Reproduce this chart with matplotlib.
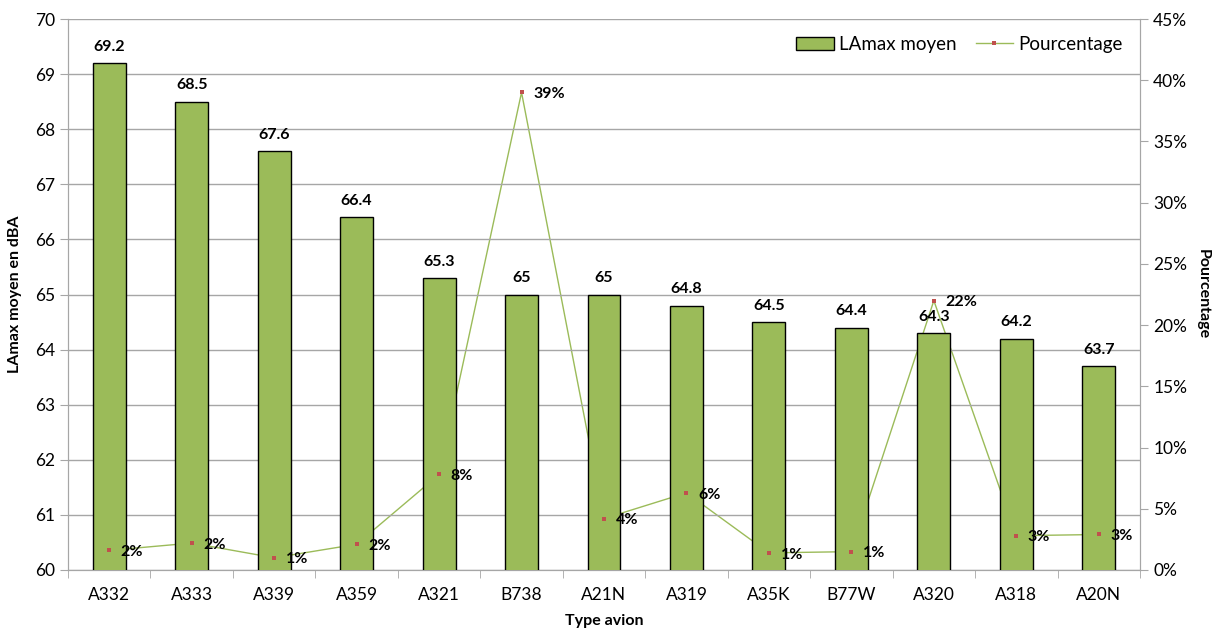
import matplotlib
matplotlib.use("Agg")
import matplotlib.pyplot as plt
from matplotlib.ticker import FuncFormatter, MultipleLocator
from matplotlib.lines import Line2D
from matplotlib.patches import Patch

plt.rcParams['font.family'] = ['Lato', 'DejaVu Sans']

categories = ["A332", "A333", "A339", "A359", "A321", "B738", "A21N", "A319",
              "A35K", "B77W", "A320", "A318", "A20N"]
lamax = [69.2, 68.5, 67.6, 66.4, 65.3, 65, 65, 64.8, 64.5, 64.4, 64.3, 64.2, 63.7]
lamax_labels = ["69.2", "68.5", "67.6", "66.4", "65.3", "65", "65", "64.8",
                "64.5", "64.4", "64.3", "64.2", "63.7"]
pct = [1.6, 2.2, 1.0, 2.1, 7.8, 39.0, 4.2, 6.3, 1.4, 1.5, 22.0, 2.8, 2.9]
pct_labels = ["2%", "2%", "1%", "2%", "8%", "39%", "4%", "6%", "1%", "1%", "22%", "3%", "3%"]

fig = plt.figure(figsize=(12.19, 6.30), dpi=100)
ax = fig.add_axes([68/1219, 60/630, 1072/1219, 551/630])
ax2 = ax.twinx()

x = list(range(len(categories)))
bar_color = "#9BBB59"
grid_color = "#A6A6A6"

ax.set_ylim(60, 70)
ax.set_xlim(-0.5, len(categories) - 0.5)
ax.yaxis.set_major_locator(MultipleLocator(1))
ax.grid(axis='y', color=grid_color, linewidth=1)
ax.set_axisbelow(True)

# line behind bars
ax.set_zorder(2)
ax.patch.set_visible(False)
ax2.set_zorder(1)

bars = ax.bar(x, lamax, width=0.40, color=bar_color, edgecolor="black",
              linewidth=1, zorder=3)
for xi, v, lab in zip(x, lamax, lamax_labels):
    ax.text(xi, v + 0.17, lab, ha='center', va='bottom', fontsize=11.5,
            fontweight='bold', zorder=6)

ax2.set_ylim(0, 45)
ax2.yaxis.set_major_locator(MultipleLocator(5))
ax2.yaxis.set_major_formatter(FuncFormatter(lambda v, p: f"{int(round(v))}%"))
ax2.plot(x, pct, color="#9BBB59", linewidth=1, zorder=1)

def to_ax(v):
    return 60 + v / 45 * 10
ax.plot(x, [to_ax(v) for v in pct], linestyle='none', marker='s', markersize=2.2,
        color="#C0504D", markeredgewidth=0, zorder=5)
for xi, v, lab in zip(x, pct, pct_labels):
    ax.text(xi + 0.14, to_ax(v) - 0.03, lab, ha='left', va='center', fontsize=11.5,
            fontweight='bold', zorder=6)

ax.set_xticks(x)
ax.set_xticklabels(categories, fontsize=12.5)
ax.tick_params(axis='x', length=0, pad=12)
ax.set_xticks([i + 0.5 for i in range(-1, len(categories))], minor=True)
ax.tick_params(axis='x', which='minor', length=6, color=grid_color, direction='out')
ax.tick_params(axis='y', labelsize=12.5, length=6, color=grid_color, direction='out')
ax2.tick_params(axis='y', labelsize=12.5, length=6, color=grid_color, direction='out')

for a in (ax, ax2):
    for s in a.spines.values():
        s.set_color(grid_color)
ax.spines['top'].set_visible(False)
ax2.spines['top'].set_visible(False)

ax.set_xlabel("Type avion", fontsize=11.5, fontweight='bold', labelpad=8)
ax.set_ylabel("LAmax moyen en dBA", fontsize=11.5, fontweight='bold', labelpad=9)
ax2.set_ylabel("Pourcentage", fontsize=11.5, fontweight='bold', rotation=270,
               labelpad=16)

handles = [Patch(facecolor=bar_color, edgecolor="black", linewidth=1),
           Line2D([0], [0], color="#9BBB59", linewidth=1, marker='s',
                  markersize=3, markerfacecolor="#C0504D", markeredgewidth=0)]
leg = ax.legend(handles, ["LAmax moyen", "Pourcentage"], loc='upper right',
                bbox_to_anchor=(1.0, 1.0), ncol=2, frameon=False, fontsize=13.5,
                handlelength=2.0, handletextpad=0.3, columnspacing=1.0)
leg.set_zorder(10)

fig.savefig("out.png", dpi=100)
